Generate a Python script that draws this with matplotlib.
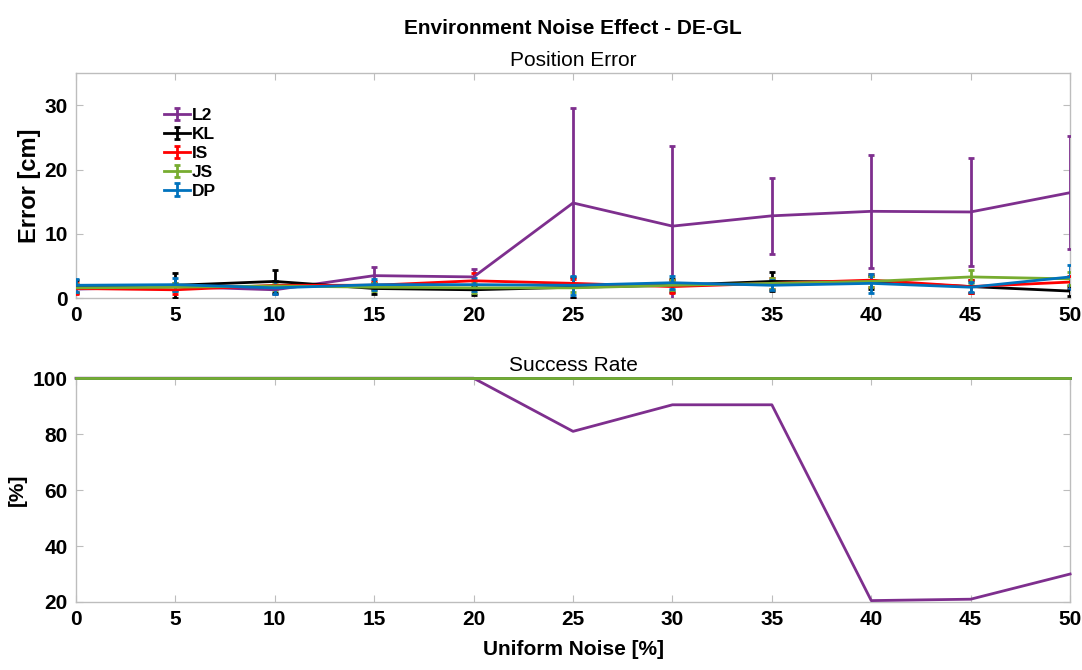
import matplotlib
matplotlib.use("Agg")
import matplotlib.pyplot as plt
from matplotlib import font_manager
from matplotlib.container import ErrorbarContainer
from matplotlib.legend_handler import HandlerErrorbar

noise = [0, 5, 10, 15, 20, 25, 30, 35, 40, 45, 50]
methods = ["L2", "KL", "IS", "JS", "DP"]
colors = {"L2": "#7E2F8E", "KL": "#000000", "IS": "#FF0000",
          "JS": "#77AC30", "DP": "#0072BD"}

# mean position error [cm]
err_L2 = [1.4, 1.8, 1.3, 3.5, 3.3, 14.8, 11.2, 12.8, 13.5, 13.4, 16.4]
err_KL = [1.8, 2.0, 2.6, 1.5, 1.3, 1.7, 2.0, 2.6, 2.5, 1.8, 1.1]
err_IS = [1.5, 1.3, 2.0, 2.0, 2.7, 2.3, 1.8, 2.3, 2.8, 1.8, 2.5]
err_JS = [1.6, 1.7, 1.9, 1.7, 1.6, 1.6, 2.0, 2.3, 2.6, 3.3, 3.0]
err_DP = [2.0, 2.1, 1.6, 2.1, 2.1, 2.0, 2.4, 2.0, 2.3, 1.7, 3.3]

# standard deviation of the position error [cm]
std_L2 = [0.4, 0.5, 0.6, 1.4, 1.2, 14.8, 12.4, 5.9, 8.8, 8.4, 8.8]
std_KL = [1.0, 1.9, 1.8, 0.8, 0.8, 1.6, 1.0, 1.5, 1.0, 1.0, 0.8]
std_IS = [0.8, 0.7, 0.6, 0.6, 1.2, 0.6, 1.0, 0.8, 1.0, 1.0, 1.0]
std_JS = [0.6, 0.6, 0.6, 0.6, 0.8, 0.6, 0.8, 0.8, 0.8, 1.0, 1.0]
std_DP = [1.0, 1.0, 1.0, 0.8, 1.0, 1.5, 1.0, 0.8, 1.5, 0.8, 1.9]

# success rate [%]
succ_L2 = [100, 100, 100, 100, 100, 81, 90.5, 90.5, 20.5, 21, 30]
succ_KL = [100] * 11
succ_IS = [100] * 11
succ_JS = [100] * 11
succ_DP = [100] * 11

means = {"L2": err_L2, "KL": err_KL, "IS": err_IS, "JS": err_JS, "DP": err_DP}
stds = {"L2": std_L2, "KL": std_KL, "IS": std_IS, "JS": std_JS, "DP": std_DP}
succ = {"L2": succ_L2, "KL": succ_KL, "IS": succ_IS, "JS": succ_JS, "DP": succ_DP}

names = {f.name for f in font_manager.fontManager.ttflist}
narrow = "Liberation Sans Narrow" if "Liberation Sans Narrow" in names else "Liberation Sans"
plt.rcParams["font.family"] = [narrow, "DejaVu Sans"]

fig = plt.figure(figsize=(10.82, 6.70), dpi=100)
ax1 = fig.add_axes([0.0702, 0.555, 0.9188, 0.336])
ax2 = fig.add_axes([0.0702, 0.1015, 0.9188, 0.334])

axis_grey = "#BDBDBD"
for ax in (ax1, ax2):
    for s in ax.spines.values():
        s.set_color(axis_grey)
        s.set_linewidth(1.0)
    ax.tick_params(direction="in", length=5, width=0.8, color=axis_grey,
                   top=True, right=True, labelsize=15, pad=6)
    ax.set_xlim(0, 50)
    ax.set_xticks(noise)

for m in methods:
    ax1.errorbar(noise, means[m], yerr=stds[m], color=colors[m], lw=2.0,
                 elinewidth=2.0, capsize=2, capthick=2.0, label=m,
                 zorder=3)
ax1.set_ylim(0, 35)
ax1.set_yticks([0, 10, 20, 30])
ax1.set_title("Position Error", fontsize=15, pad=5)
ax1.set_ylabel("Error [cm]", fontsize=17, fontweight="bold",
               family=["Liberation Sans", "DejaVu Sans"], labelpad=2)
leg = ax1.legend(loc="upper left", bbox_to_anchor=(0.08, 0.885), frameon=False,
                 fontsize=12.5, handlelength=1.5, handletextpad=0.1,
                 labelspacing=0.22, borderpad=0,
                 handler_map={ErrorbarContainer: HandlerErrorbar(yerr_size=0.35)})
for t in leg.get_texts():
    t.set_fontweight("bold")
    t.set_family(["Liberation Sans", "DejaVu Sans"])

for m in ["L2", "KL", "IS", "DP", "JS"]:
    ax2.plot(noise, succ[m], color=colors[m], lw=2.0, clip_on=False, zorder=3)
ax2.set_ylim(20, 100)
ax2.set_yticks([20, 40, 60, 80, 100])
ax2.set_title("Success Rate", fontsize=15, pad=5)
ax2.set_ylabel("[%]", fontsize=15, fontweight="bold", labelpad=4)
ax2.set_xlabel("Uniform Noise [%]", fontsize=15, fontweight="bold", labelpad=8)

for ax in (ax1, ax2):
    for lab in ax.get_xticklabels() + ax.get_yticklabels():
        lab.set_fontweight("bold")

fig.text(0.5295, 0.958, "Environment Noise Effect - DE-GL", ha="center",
         va="center", fontsize=15, fontweight="bold")

fig.savefig("out.png", dpi=100)
